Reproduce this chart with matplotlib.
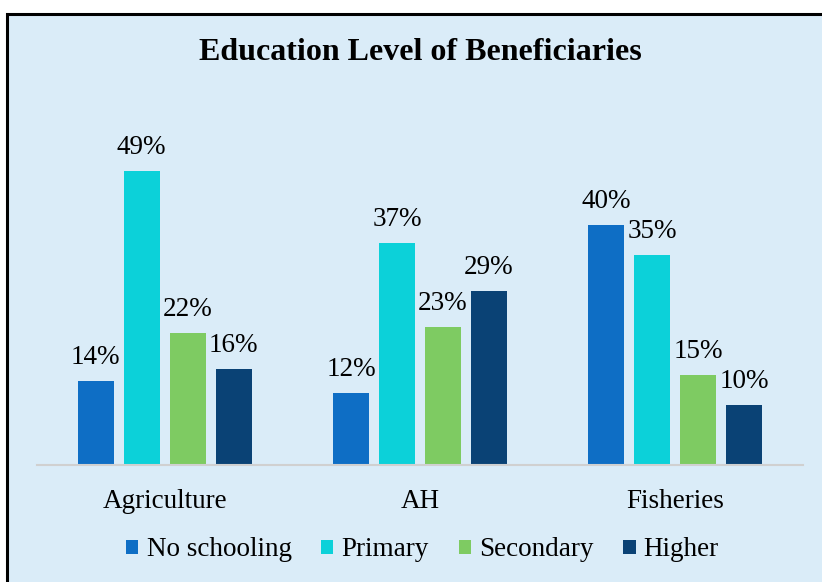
import numpy as np
import matplotlib
matplotlib.use("Agg")
import matplotlib.pyplot as plt
from matplotlib.patches import Rectangle, Patch

plt.rcParams['font.family'] = ['Liberation Serif', 'DejaVu Serif']

categories = ['Agriculture', 'AH', 'Fisheries']
levels = ['No schooling', 'Primary', 'Secondary', 'Higher']
values = {
    'No schooling': [14, 12, 40],
    'Primary': [49, 37, 35],
    'Secondary': [22, 23, 15],
    'Higher': [16, 29, 10],
}
colors = ['#0E6EC5', '#0CD1D9', '#7ECB62', '#0A4275']
bg = '#DAECF8'


def main():
    fig = plt.figure(figsize=(8.22, 5.82), dpi=100)
    fig.patch.set_facecolor('white')
    # chart area frame (cropped at right and bottom)
    frame = Rectangle((7 / 822, -0.02), 1.05, 0.976 + 0.02, transform=fig.transFigure,
                      facecolor=bg, edgecolor='black', linewidth=2.2, zorder=0)
    fig.patches.append(frame)

    ax = fig.add_axes([37 / 822, 117 / 582, 766 / 822, 360 / 582])
    ax.set_zorder(2)
    ax.set_facecolor('none')
    x = np.arange(len(categories))
    width = 0.141
    offsets = [-0.27, -0.09, 0.09, 0.27]
    for i, lev in enumerate(levels):
        bars = ax.bar(x + offsets[i], values[lev], width, color=colors[i], zorder=2)
        for b, v in zip(bars, values[lev]):
            ax.text(b.get_x() + b.get_width() / 2, v + 1.8, f'{v}%',
                    ha='center', va='bottom', fontsize=19.5)

    ax.set_xlim(-0.5, 2.5)
    ax.set_ylim(0, 60)
    ax.set_yticks([])
    ax.set_xticks(x)
    ax.set_xticklabels(categories, fontsize=19.5)
    ax.tick_params(axis='x', length=0, pad=17)
    for s in ['top', 'right', 'left']:
        ax.spines[s].set_visible(False)
    ax.spines['bottom'].set_color('#D0D0D0')
    ax.spines['bottom'].set_linewidth(1.5)

    fig.text(0.511, 1 - 53 / 582, 'Education Level of Beneficiaries',
             ha='center', va='center', fontsize=23, fontweight='bold', zorder=3)

    handles = [Patch(facecolor=c) for c in colors]
    leg = fig.legend(handles, levels, loc='center', bbox_to_anchor=(0.514, 1 - 550 / 582),
                     ncol=4, frameon=False, fontsize=19.5, handlelength=0.45, handleheight=0.45,
                     handletextpad=0.3, columnspacing=1.1)
    leg.set_zorder(3)

    fig.savefig('out.png', dpi=100, facecolor=fig.get_facecolor())


if __name__ == "__main__":
    main()
